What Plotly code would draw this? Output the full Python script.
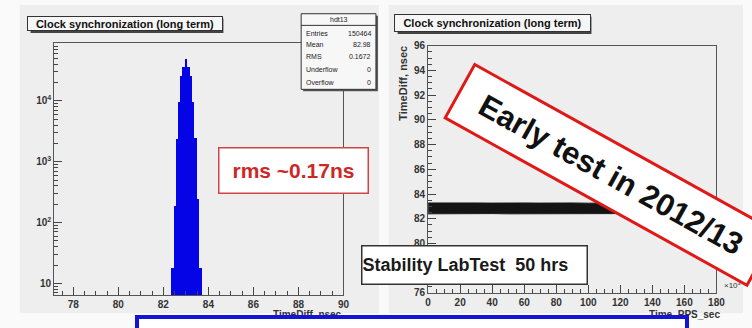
import plotly.graph_objects as go

W, H = 752, 328

# ---------------- data ----------------
# left: TimeDiff histogram (bin edges in nsec, counts)
hist_edges = [82.35, 82.46, 82.55, 82.64, 82.74, 82.84, 82.95, 83.07, 83.17, 83.27, 83.36, 83.49, 83.60, 83.71]
hist_counts = [18, 190, 2400, 9600, 25700, 36000, 48500, 36000, 25700, 9600, 2500, 245, 18]

# stats box
stats_title = "hdt13"
stats_labels = ["Entries", "Mean", "RMS", "Underflow", "Overflow"]
stats_values = ["150464", "82.98", "0.1672", "0", "0"]

# right: TimeDiff vs time (band of points), time in 10^3 s
time_ks = [0, 10, 20, 30, 40, 50, 60, 70, 80, 90, 100, 110, 120, 130, 140, 150, 160, 170, 180]
band_low = [82.40, 82.42, 82.40, 82.41, 82.42, 82.40, 82.41, 82.40, 82.42, 82.41, 82.40, 82.41, 82.42, 82.40, 82.41, 82.40, 82.42, 82.41, 82.40]
band_high = [83.28, 83.26, 83.30, 83.28, 83.27, 83.30, 83.28, 83.27, 83.29, 83.28, 83.26, 83.28, 83.29, 83.27, 83.28, 83.30, 83.27, 83.28, 83.28]

left_xticks = [78, 80, 82, 84, 86, 88, 90]
left_yticks = [10, 100, 1000, 10000]
left_yticktext = ["10", "10<sup>2</sup>", "10<sup>3</sup>", "10<sup>4</sup>"]
right_xticks = [0, 20, 40, 60, 80, 100, 120, 140, 160, 180]
right_yticks = [76, 78, 80, 82, 84, 86, 88, 90, 92, 94, 96]

FONT = "Liberation Sans Narrow, Liberation Sans, Arial, sans-serif"
FONT2 = "Liberation Sans, Arial, sans-serif"


def px(x):
    return x / W


def py(y):
    return 1 - y / H


centers = [(a + b) / 2 for a, b in zip(hist_edges[:-1], hist_edges[1:])]
widths = [b - a for a, b in zip(hist_edges[:-1], hist_edges[1:])]

fig = go.Figure()
fig.add_trace(go.Bar(x=centers, y=hist_counts, width=widths, marker=dict(color="#0404e6", line=dict(width=0)),
                     xaxis="x", yaxis="y", showlegend=False, hoverinfo="skip"))

fig.add_trace(go.Scatter(x=time_ks, y=band_low, mode="lines", line=dict(color="#1a1a1a", width=1),
                         xaxis="x2", yaxis="y2", showlegend=False, hoverinfo="skip"))
fig.add_trace(go.Scatter(x=time_ks, y=band_high, mode="lines", line=dict(color="#1a1a1a", width=1),
                         fill="tonexty", fillcolor="#141414",
                         xaxis="x2", yaxis="y2", showlegend=False, hoverinfo="skip"))

tickfont = dict(family=FONT, size=10, color="#333333", weight="bold")
common = dict(ticks="inside", ticklen=8, tickwidth=1, tickcolor="#444444", showline=True, linecolor="#555555",
              linewidth=1, mirror=True, showgrid=False, zeroline=False, tickfont=tickfont)

left_minor = []
for d in [1, 10, 100, 1000, 10000]:
    for m in range(2, 10):
        v = d * m
        if 6.5 <= v <= 90000:
            left_minor.append(v)

fig.update_layout(
    width=W, height=H, margin=dict(l=0, r=0, t=0, b=0),
    paper_bgcolor="#fafafa", plot_bgcolor="rgba(0,0,0,0)",
    bargap=0,
    xaxis=dict(domain=[px(52), px(346)], range=[77.15, 90.0], tickmode="array", tickvals=left_xticks,
               minor=dict(ticks="inside", ticklen=4, dtick=0.5, tick0=78, tickcolor="#444444"),
               anchor="y", **common),
    yaxis=dict(domain=[py(299), py(39)], type="log", range=[0.81, 4.957], tickmode="array",
               tickvals=left_yticks, ticktext=left_yticktext,
               minor=dict(ticks="inside", ticklen=4, tickmode="array", tickvals=left_minor, tickcolor="#444444"),
               anchor="x", **common),
    xaxis2=dict(domain=[px(432), px(725)], range=[0, 180], tickmode="array", tickvals=right_xticks,
                minor=dict(ticks="inside", ticklen=4, dtick=5, tick0=0, tickcolor="#444444"),
                anchor="y2", **common),
    yaxis2=dict(domain=[py(297), py(42)], range=[76, 96], tickmode="array", tickvals=right_yticks,
                minor=dict(ticks="inside", ticklen=4, dtick=0.5, tick0=76, tickcolor="#444444"),
                anchor="x2", **common),
)

shapes = []
# canvases
shapes.append(dict(type="rect", xref="paper", yref="paper", x0=px(17), x1=px(382), y0=py(318), y1=py(0),
                   fillcolor="#eeeeee", line=dict(width=0), layer="below"))
shapes.append(dict(type="rect", xref="paper", yref="paper", x0=px(392), x1=px(752), y0=py(318), y1=py(0),
                   fillcolor="#eeeeee", line=dict(width=0), layer="below"))
# title box shadows
for (x0, y0, x1, y1) in [(26, 12, 222, 27), (399, 10, 596, 28)]:
    shapes.append(dict(type="rect", xref="paper", yref="paper", x0=px(x0 + 2), x1=px(x1 + 2), y0=py(y1 + 2),
                       y1=py(y0 + 2), fillcolor="#444444", line=dict(width=0), layer="above"))
# stats box
shapes.append(dict(type="rect", xref="paper", yref="paper", x0=px(305), x1=px(381), y0=py(89), y1=py(11),
                   fillcolor="#555555", line=dict(width=0), layer="above"))
shapes.append(dict(type="rect", xref="paper", yref="paper", x0=px(303), x1=px(379), y0=py(87), y1=py(9),
                   fillcolor="#f7f7f7", line=dict(color="#333333", width=1), layer="above"))
shapes.append(dict(type="line", xref="paper", yref="paper", x0=px(303), x1=px(379), y0=py(21), y1=py(21),
                   line=dict(color="#333333", width=1), layer="above"))
fig.update_layout(shapes=shapes)

ann = []
# titles
for (x0, y0, x1, y1) in [(26, 12, 222, 27), (399, 10, 596, 28)]:
    ann.append(dict(xref="paper", yref="paper", x=px((x0 + x1) / 2), y=py((y0 + y1) / 2), xanchor="center",
                    yanchor="middle", text="Clock synchronization (long term)", showarrow=False,
                    font=dict(family=FONT2, size=11, color="#111111", weight="bold"),
                    bgcolor="#f6f6f6", bordercolor="#333333", borderwidth=1, borderpad=0,
                    width=x1 - x0 - 2, height=y1 - y0 - 2))
# stats text
ann.append(dict(xref="paper", yref="paper", x=px(341), y=py(15), xanchor="center", yanchor="middle",
                text=stats_title, showarrow=False, font=dict(family=FONT, size=7, color="#222222")))
row_y = [29, 41, 53, 67, 80]
for lab, val, yy in zip(stats_labels, stats_values, row_y):
    ann.append(dict(xref="paper", yref="paper", x=px(306), y=py(yy), xanchor="left", yanchor="middle",
                    text=lab, showarrow=False, font=dict(family=FONT, size=7, color="#222222")))
    ann.append(dict(xref="paper", yref="paper", x=px(376), y=py(yy), xanchor="right", yanchor="middle",
                    text=val, showarrow=False, font=dict(family=FONT, size=7, color="#222222")))
# axis titles
ann.append(dict(xref="paper", yref="paper", x=px(347), y=py(312), xanchor="right", yanchor="top",
                text="TimeDiff_nsec", showarrow=False, font=dict(family=FONT, size=10, color="#333333", weight="bold")))
ann.append(dict(xref="paper", yref="paper", x=px(731), y=py(312), xanchor="right", yanchor="top",
                text="Time_PPS_sec", showarrow=False, font=dict(family=FONT, size=10, color="#333333", weight="bold")))
ann.append(dict(xref="paper", yref="paper", x=px(407), y=py(40), xanchor="center", yanchor="top", textangle=-90,
                text="TimeDiff, nsec", showarrow=False, font=dict(family=FONT, size=11, color="#333333", weight="bold")))
ann.append(dict(xref="paper", yref="paper", x=px(731), y=py(289), xanchor="left", yanchor="middle",
                text="\u00d710<sup>3</sup>", showarrow=False, font=dict(family=FONT, size=8, color="#333333")))
# rms box
ann.append(dict(xref="paper", yref="paper", x=px(295.5), y=py(170.5), xanchor="center", yanchor="middle",
                text="rms ~0.17ns", showarrow=False, font=dict(family=FONT2, size=21, color="#cc2828", weight="bold"),
                bgcolor="#ffffff", bordercolor="#d04444", borderwidth=1.5, borderpad=0, width=148, height=44))
# stability box
ann.append(dict(xref="paper", yref="paper", x=px(479), y=py(268), xanchor="center", yanchor="middle",
                text="Stability LabTest\u00a0\u00a050 hrs", showarrow=False, align="left",
                font=dict(family=FONT2, size=18, color="#1a1a1a", weight="bold"),
                bgcolor="#ffffff", bordercolor="#333333", borderwidth=1.5, borderpad=0, width=224, height=37))
# early test rotated box
ann.append(dict(xref="paper", yref="paper", x=px(618), y=py(175), xanchor="center", yanchor="middle",
                text="Early test in 2012/13", showarrow=False, textangle=29,
                font=dict(family=FONT2, size=31, color="#111111", weight="bold"),
                bgcolor="#ffffff", bordercolor="#e01818", borderwidth=3, borderpad=10, width=322, height=38))
# blue box at bottom
ann.append(dict(xref="paper", yref="paper", x=px(416), y=py(335), xanchor="center", yanchor="middle",
                text=" ", showarrow=False, bgcolor="#ffffff", bordercolor="#1414d8", borderwidth=4, borderpad=0,
                width=546, height=21))
fig.update_layout(annotations=ann)

fig.write_html("out.html", config={"displayModeBar": False},
               post_script="document.body.style.margin='0';document.body.style.overflow='hidden';")
